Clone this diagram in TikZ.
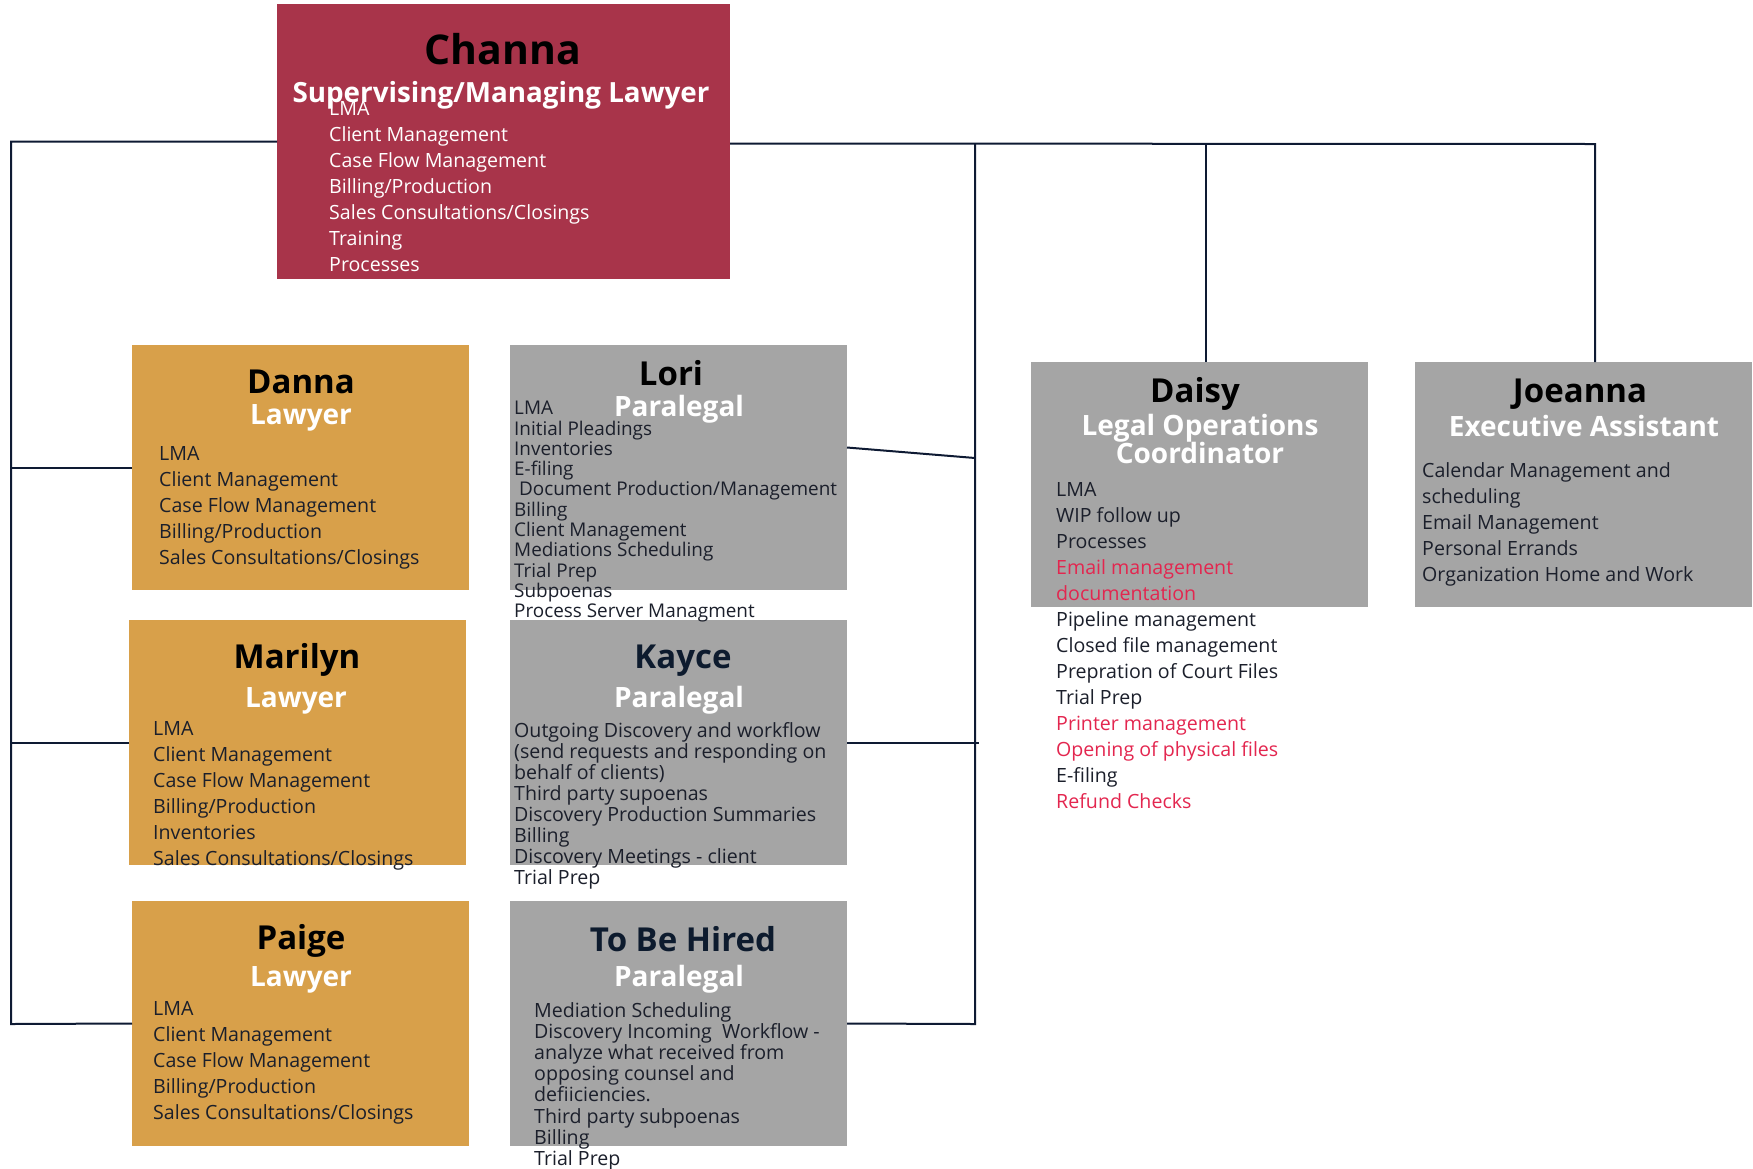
\documentclass[tikz,border=0pt]{standalone}
\usepackage{fontspec}
\setmainfont{Open Sans}
\definecolor{chanared}{HTML}{A8344A}
\definecolor{lawyergold}{HTML}{D8A04A}
\definecolor{staffgrey}{HTML}{A5A5A5}
\definecolor{inkdark}{HTML}{1B1F2B}
\definecolor{inknavy}{HTML}{0D1B2E}
\definecolor{flagred}{HTML}{E3264F}
\definecolor{linknavy}{HTML}{0E1A33}
\newcommand\nolineskip{\lineskiplimit-20pt\relax}
\begin{document}
\begin{tikzpicture}
[x=1pt,y=-1pt,
  cardbox/.style={shape=rectangle,inner sep=0pt,outer sep=0pt,anchor=north west,%
    minimum width=337pt,minimum height=245pt},
  namedecorate/.style={anchor=base,inner sep=0pt,font=\fontsize{33}{36}\selectfont\bfseries},
  roledecorate/.style={anchor=base,inner sep=0pt,text=white,font=\fontsize{28}{30}\selectfont\bfseries},
  listdecorate/.style={anchor=north west,inner sep=0pt,align=left,text=inkdark,%
    font=\fontsize{19.6}{26}\selectfont\nolineskip},
  tightlist/.style={listdecorate,font=\fontsize{18.9}{20.3}\selectfont\nolineskip},
  linedecorate/.style={-,line width=2pt,draw=linknavy}]
\useasboundingbox (0,0) rectangle (1753,1168);
%% boxes
\node (channa) at (277,4) [cardbox,fill=chanared,minimum width=453pt,minimum height=275pt] {};
\foreach \nodename/\x/\y/\shade in {danna/132/345/lawyergold, marilyn/129/620/lawyergold,
  paige/132/901/lawyergold, lori/510/345/staffgrey, kayce/510/620/staffgrey,
  tobehired/510/901/staffgrey, daisy/1031/362/staffgrey, joeanna/1415/362/staffgrey} {
  \node (\nodename) at (\x,\y) [cardbox,fill=\shade] {};
}
%% names and roles
\node (channa-name) at (503,64) [namedecorate,font=\fontsize{41}{44}\selectfont\bfseries] {Channa};
\node (channa-role) at (501,102) [roledecorate,font=\fontsize{27.8}{28}\selectfont\bfseries]
  {Supervising/Managing Lawyer};
\foreach \nodename/\x/\y/\ink/\txt in {danna/301/393/black/Danna, lori/671/385/black/Lori,
  marilyn/297/668/black/Marilyn, kayce/683/668/inknavy/Kayce, paige/301/949/black/Paige,
  tobehired/683/951/inknavy/To Be Hired, daisy/1195/402/black/Daisy,
  joeanna/1580/402/black/Joeanna} {
  \node (\nodename-name) at (\x,\y) [namedecorate,text=\ink] {\txt};
}
\foreach \nodename/\x/\y/\txt in {danna-role/301/424/Lawyer, lori-role/679/416/Paralegal,
  marilyn-role/296/707/Lawyer, kayce-role/679/707/Paralegal, paige-role/301/986/Lawyer,
  tobehired-role/679/986/Paralegal, daisy-role/1200/435/Legal Operations,
  daisy-rolecont/1200/463/Coordinator, joeanna-role/1584/436/Executive Assistant} {
  \node (\nodename) at (\x,\y) [roledecorate] {\txt};
}
%% duty lists
\node (channa-list) at (329,101) [listdecorate,text=white]
  {LMA\\Client Management\\Case Flow Management\\Billing/Production\\
   Sales Consultations/Closings\\Training\\Processes};
\node (danna-list) at (159,446) [listdecorate]
  {LMA\\Client Management\\Case Flow Management\\Billing/Production\\
   Sales Consultations/Closings};
\node (marilyn-list) at (153,721) [listdecorate]
  {LMA\\Client Management\\Case Flow Management\\Billing/Production\\Inventories\\
   Sales Consultations/Closings};
\node (paige-list) at (153,1001) [listdecorate]
  {LMA\\Client Management\\Case Flow Management\\Billing/Production\\
   Sales Consultations/Closings};
\node (lori-list) at (514,401) [tightlist]
  {LMA\\Initial Pleadings\\Inventories\\E-filing\\\ Document Production/Management\\
   Billing\\Client Management\\Mediations Scheduling\\Trial Prep\\Subpoenas\\
   Process Server Managment};
\node (kayce-list) at (514,722) [tightlist,font=\fontsize{19.6}{21}\selectfont\nolineskip]
  {Outgoing Discovery and workflow\\(send requests and responding on\\behalf of clients)\\
   Third party supoenas\\Discovery Production Summaries\\Billing\\
   Discovery Meetings - client\\Trial Prep};
\node (tobehired-list) at (534,1002) [tightlist,font=\fontsize{19.6}{21.2}\selectfont\nolineskip]
  {Mediation Scheduling\\Discovery Incoming\ \ Workflow -\\analyze what received from\\
   opposing counsel and\\defiiciencies.\\Third party subpoenas\\Billing\\Trial Prep};
\node (daisy-list) at (1056,482) [listdecorate]
  {LMA\\WIP follow up\\Processes\\\textcolor{flagred}{Email management}\\
   \textcolor{flagred}{documentation}\\Pipeline management\\Closed file management\\
   Prepration of Court Files\\Trial Prep\\\textcolor{flagred}{Printer management}\\
   \textcolor{flagred}{Opening of physical files}\\E-filing\\\textcolor{flagred}{Refund Checks}};
\node (joeanna-list) at (1422,462) [listdecorate]
  {Calendar Management and\\scheduling\\Email Management\\Personal Errands\\
   Organization Home and Work};
%% connectors
\coordinate (lspine) at (11,1024);
\coordinate (rspine) at (975,1024);
\coordinate (lorijoin) at (975,458);
\coordinate (daisyjoin) at (1206,144);
\coordinate (joeannajoin) at (1595,144);
\draw [linedecorate] (channa.west) -| (lspine) -- (paige.west);
\draw [linedecorate] (danna.west) -- (danna.west -| lspine);
\draw [linedecorate] (marilyn.west) -- (marilyn.west -| lspine);
\draw [linedecorate] ([yshift=-2pt]channa.east) -- (joeannajoin) -- (joeannajoin |- joeanna.north);
\draw [linedecorate] ([yshift=-2pt]channa.east -| rspine) -- (rspine) -- (tobehired.east);
\draw [linedecorate] (daisyjoin) -- (daisyjoin |- daisy.north);
\draw [linedecorate] ([yshift=20pt]lori.east) -- (lorijoin);
\draw [linedecorate] (kayce.east) -- ([xshift=4pt]kayce.east -| rspine);
\end{tikzpicture}
\end{document}
